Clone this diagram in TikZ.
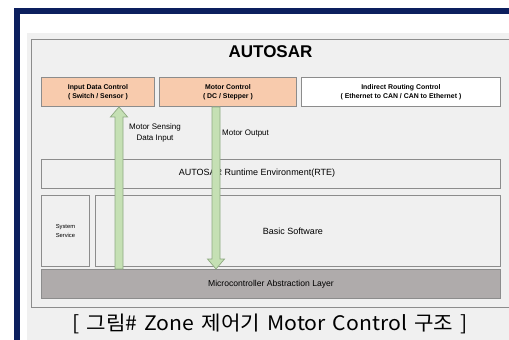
\documentclass[tikz,border=0pt]{standalone}
\usepackage{fontspec}
\setmainfont{Liberation Sans}
\newfontfamily\krfont[FakeStretch=1.06]{Noto Sans CJK KR}
\usetikzlibrary{calc}
\definecolor{navy}{HTML}{0C1F5E}
\definecolor{panel}{HTML}{F0F0F0}
\definecolor{edge}{HTML}{8C8C8C}
\definecolor{peach}{HTML}{F8CBAD}
\definecolor{mcalgray}{HTML}{AFABAB}
\definecolor{arrowfill}{HTML}{C5E0B4}
\definecolor{arrowedge}{HTML}{8FAA82}
\tikzset{
  layerbox/.style={draw=edge, line width=0.9pt, inner sep=0pt},
  appbox/.style={layerbox, fill=peach},
  routebox/.style={layerbox, fill=white},
  plainbox/.style={layerbox, fill=panel},
  boxtext/.style={font=\fontsize{6.9}{8.6}\selectfont\bfseries, align=center},
  blockarrow/.style={draw=arrowedge, line width=0.7pt, fill=arrowfill, line join=miter},
  note/.style={font=\fontsize{8}{11}\selectfont, align=center, inner sep=0pt},
}
\begin{document}
\begin{tikzpicture}[x=1pt,y=-1pt]
\useasboundingbox (0,0) rectangle (509,340);
% page frame and panel
\fill[white] (0,0) rectangle (509,340);
\fill[navy] (14,8) rectangle (509,340);
\fill[white] (20,14) rectangle (509,340);
\fill[panel] (27,33) rectangle (509,340);
\draw[edge, line width=1pt] (515,39) -- (31,39) -- (31,307) -- (515,307);

% title
\node[font=\fontsize{17}{20}\selectfont\bfseries] (title) at (270.5,52) {AUTOSAR};

% application components
\node[appbox, minimum width=113pt, minimum height=29pt, anchor=north west] (idc) at (41,77) {};
\node[boxtext] at (idc.center) {Input Data Control\\( Switch / Sensor )};
\node[appbox, minimum width=137pt, minimum height=29pt, anchor=north west] (mc) at (159,77) {};
\node[boxtext] at (mc.center) {Motor Control\\( DC / Stepper )};
\node[routebox, minimum width=199pt, minimum height=29pt, anchor=north west] (irc) at (301,77) {};
\node[boxtext] at (irc.center) {Indirect Routing Control\\( Ethernet to CAN / CAN to Ethernet )};

% RTE
\node[plainbox, minimum width=459pt, minimum height=29pt, anchor=north west] (rte) at (41,159) {};
\node[font=\fontsize{9}{11}\selectfont] (rtetext) at (257,173.5) {AUTOSAR Runtime Environment(RTE)};

% basic software layer
\node[plainbox, minimum width=48pt, minimum height=71pt, anchor=north west] (sys) at (41,195) {};
\node[font=\fontsize{5.8}{8.5}\selectfont, align=center] (systext) at (sys.center) {System\\Service};
\node[plainbox, minimum width=405pt, minimum height=71pt, anchor=north west] (bsw) at (95,195) {};
\node[font=\fontsize{9}{11}\selectfont] (bswtext) at (293,231.5) {Basic Software};

% MCAL
\node[layerbox, fill=mcalgray, minimum width=459pt, minimum height=29pt, anchor=north west] (mcal) at (41,269) {};
\node[font=\fontsize{8.6}{10}\selectfont] (mcaltext) at (mcal.center) {Microcontroller Abstraction Layer};

% data flow arrows
\coordinate (upx) at (119,0);
\coordinate (downx) at (216,0);
\draw[blockarrow] let \p1=(upx |- idc.south), \p2=(upx |- mcal.north) in
  (\x1-4pt,\y2) -- (\x1-4pt,\y1-10pt) -- (\x1-8.5pt,\y1-10pt) -- (\x1,\y1)
  -- (\x1+8.5pt,\y1-10pt) -- (\x1+4pt,\y1-10pt) -- (\x1+4pt,\y2) -- cycle;
\draw[blockarrow] let \p1=(downx |- mc.south), \p2=(downx |- mcal.north) in
  (\x1-4pt,\y1) -- (\x1-4pt,\y2+10pt) -- (\x1-8.5pt,\y2+10pt) -- (\x1,\y2)
  -- (\x1+8.5pt,\y2+10pt) -- (\x1+4pt,\y2+10pt) -- (\x1+4pt,\y1) -- cycle;

\node[note] (sensing) at (155,133) {Motor Sensing\\Data Input};
\node[note, anchor=west] (output) at (222,134) {Motor Output};

% caption
\node[font=\krfont\fontsize{20}{24}\selectfont] (caption) at (270,323.5)
  {\spaceskip=0.36em [ 그림\# Zone 제어기 Motor Control 구조 ]};
\end{tikzpicture}
\end{document}
